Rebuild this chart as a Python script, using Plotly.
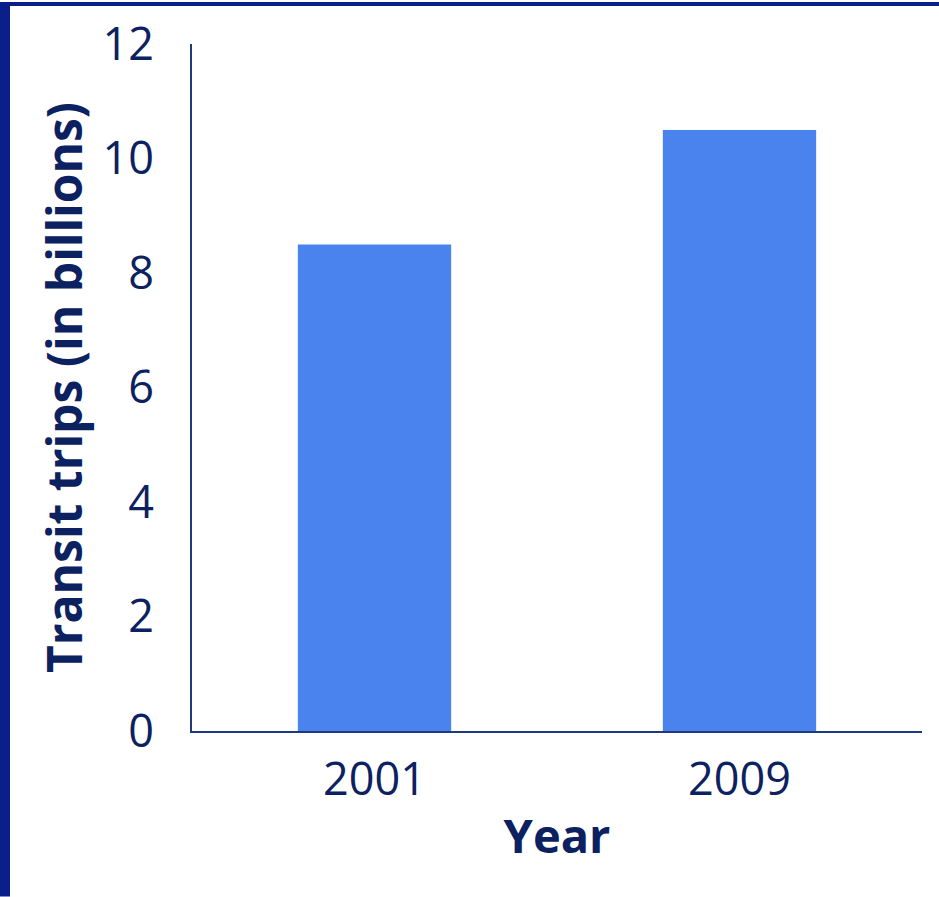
import plotly.graph_objects as go

years = ["2001", "2009"]
trips = [8.5, 10.5]
y_ticks = [0, 2, 4, 6, 8, 10, 12]

W, H = 939, 897
ml, mr, mt, mb = 192, 17, 42, 166
pw, ph = W - ml - mr, H - mt - mb

navy = "#0b2160"
fig = go.Figure(go.Bar(x=years, y=trips, marker_color="#4a83ee", marker_line_width=0))

fig.update_layout(
    width=W, height=H,
    margin=dict(l=ml, r=mr, t=mt, b=mb),
    paper_bgcolor="white", plot_bgcolor="white",
    bargap=0.58,
    showlegend=False,
    font=dict(family="Open Sans", color=navy),
    xaxis=dict(
        showline=True, linecolor="#1f3a7a", linewidth=2,
        showgrid=False, ticks="", tickfont=dict(size=45, color=navy),
        ticklabelstandoff=8,
        title=dict(text="<b>Year</b>", font=dict(size=47, color=navy), standoff=13),
    ),
    yaxis=dict(
        range=[0, 12], tickvals=y_ticks, showline=True, linecolor="#1f3a7a", linewidth=2,
        showgrid=False, zeroline=False, ticks="", tickfont=dict(size=45, color=navy),
        ticklabelstandoff=27,
        title=dict(text="<b>Transit trips (in billions)</b>", font=dict(size=48, color=navy), standoff=5),
    ),
)

# frame accents: left and top dark-blue bands
border = "#0a1f8c"
fig.add_shape(type="rect", xref="paper", yref="paper",
              x0=-ml / pw, x1=(10 - ml) / pw, y0=-mb / ph, y1=1 + mt / ph,
              fillcolor=border, line_width=0, layer="above")
fig.add_shape(type="rect", xref="paper", yref="paper",
              x0=-ml / pw, x1=1 + mr / pw, y0=1 + (mt - 4) / ph, y1=1 + mt / ph,
              fillcolor=border, line_width=0, layer="above")

fig.write_html("out.html")
